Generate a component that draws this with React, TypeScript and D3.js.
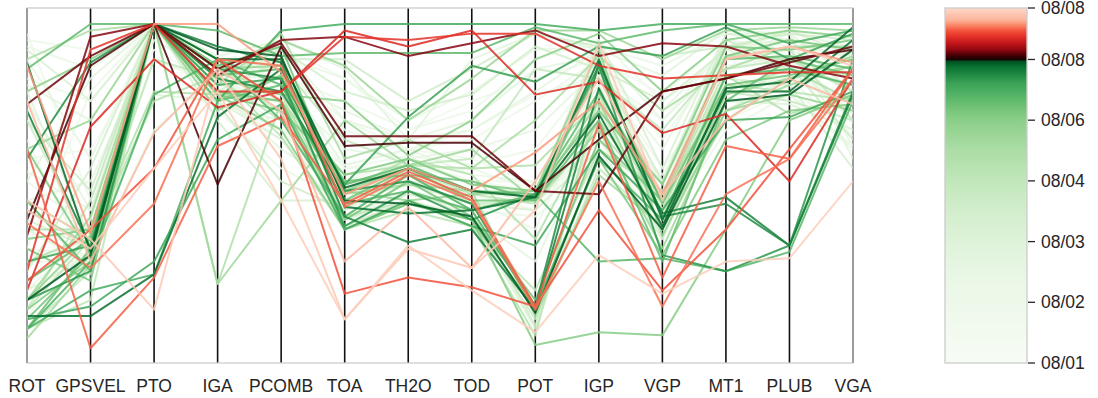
import React from 'react';
import * as d3 from 'd3';

// axes of the parallel coordinates plot
const dims = ['ROT', 'GPSVEL', 'PTO', 'IGA', 'PCOMB', 'TOA', 'TH2O', 'TOD', 'POT', 'IGP', 'VGP', 'MT1', 'PLUB', 'VGA'];

// colorbar ticks (position along the bar, 0 = bottom, 1 = top)
const barTicks = ['08/01', '08/02', '08/03', '08/04', '08/06', '08/08', '08/08'];
const barTickAt = [0, 0.171, 0.342, 0.513, 0.684, 0.855, 1];

// time of each record, as position on the colour scale
const when = [
  // reds
  0.875, 0.868, 0.915, 0.88, 0.92, 0.94, 0.945, 0.935, 0.958, 0.985, 0.972, 0.99,
  // dark greens
  0.84, 0.835, 0.82, 0.81, 0.845, 0.77, 0.74, 0.79, 0.8, 0.78,
  // medium / light greens
  0.74, 0.72, 0.7, 0.68, 0.76, 0.66, 0.64, 0.71, 0.6, 0.73,
  0.55, 0.5, 0.45, 0.42, 0.62, 0.38, 0.58, 0.35, 0.3, 0.52,
  0.28, 0.25, 0.48, 0.2, 0.4, 0.15, 0.69, 0.75, 0.1, 0.33,
  0.57, 0.65, 0.7, 0.63, 0.45, 0.53, 0.18, 0.22, 0.12, 0.44,
  // faint greens
  0.2, 0.23, 0.18, 0.21, 0.17, 0.25, 0.19, 0.27, 0.22, 0.29, 0.24, 0.31, 0.2, 0.26, 0.28,
];

// normalised values (0-100) for each record, one per axis
const rows = [
  [75, 90, 100, 86, 94, 65, 65, 65, 48, 47, 79, 83, 88, 93],
  [39, 87, 100, 50, 93, 62, 63, 63, 48, 64, 79, 83, 89, 92],
  [17, 68, 89, 74, 79, 98, 93, 98, 78, 82, 66, 72, 51, 83],
  [34, 96, 100, 84, 95, 96, 90, 94, 98, 90, 94, 93, 87, 83],
  [23, 92, 100, 79, 79, 96, 95, 97, 97, 87, 83, 84, 85, 85],
  [61, -1, 21, 62, 71, 44, 54, 46, 12, 69, 21, 62, 58, 86],
  [38, 24, 44, 89, 87, 43, 53, 45, 11, 51, 12, 47, 58, 83],
  [20, 36, 55, 89, 76, 16, 21, 18, 12, 42, 17, 36, 61, 86],
  [87, 35, 100, 100, 85, 47, 55, 48, 60, 76, 47, 89, 93, 88],
  [45, 33, 11, 85, 58, 8, 30, 24, 42, 94, 45, 89, 93, 87],
  [76, 26, 66, 86, 73, 26, 43, 24, 51, 83, 47, 70, 83, 75],
  [42, 30, 55, 79, 45, 8, 31, 17, 4, 28, 16, 26, 27, 51],

  [88, 29, 100, 89, 89, 49, 55, 48, 46, 72, 37, 80, 82, 99],
  [9, 9, 22, 71, 86, 43, 41, 42, 46, 89, 39, 79, 79, 95],
  [73, 30, 100, 93, 88, 40, 32, 36, 11, 80, 41, 46, 31, 78],
  [58, 88, 100, 83, 79, 48, 51, 44, 12, 88, 40, 44, 31, 79],
  [14, 28, 100, 92, 90, 45, 44, 40, 10, 59, 36, 76, 78, 92],
  [5, 17, 22, 76, 98, 100, 100, 100, 100, 98, 100, 100, 94, 98],
  [86, 100, 100, 98, 90, 91, 91, 91, 99, 94, 98, 100, 100, 100],
  [26, 31, 100, 81, 83, 50, 71, 87, 82, 93, 90, 99, 89, 97],
  [14, 23, 100, 86, 83, 37, 48, 39, 47, 87, 28, 23, 31, 89],
  [8, 12, 26, 64, 75, 36, 45, 37, 31, 61, 42, 70, 71, 79],

  [20, 33, 100, 84, 86, 50, 56, 48, 47, 79, 45, 89, 90, 86],
  [8, 28, 100, 87, 93, 45, 55, 45, 45, 86, 44, 81, 84, 89],
  [33, 36, 100, 78, 73, 53, 58, 50, 48, 73, 50, 93, 92, 95],
  [79, 89, 100, 83, 78, 76, 59, 70, 89, 97, 79, 95, 98, 96],
  [5, 26, 78, 89, 70, 40, 53, 42, 12, 58, 39, 84, 86, 81],
  [14, 34, 100, 73, 84, 48, 45, 47, 48, 92, 34, 73, 78, 73],
  [61, 70, 100, 86, 95, 87, 70, 83, 98, 98, 89, 98, 99, 98],
  [30, 20, 100, 79, 76, 39, 51, 40, 14, 64, 45, 90, 95, 92],
  [89, 98, 100, 81, 97, 58, 64, 55, 70, 90, 73, 86, 93, 93],
  [5, 30, 100, 76, 81, 51, 53, 51, 45, 70, 26, 76, 89, 84],
  [45, 33, 76, 84, 65, 36, 42, 37, 3, 78, 40, 81, 79, 76],
  [11, 45, 100, 89, 87, 64, 56, 58, 86, 83, 67, 90, 92, 70],
  [70, 31, 100, 75, 51, 42, 55, 44, 45, 87, 51, 95, 87, 64],
  [23, 55, 100, 83, 92, 79, 73, 78, 93, 86, 76, 92, 98, 90],
  [2, 25, 100, 78, 79, 47, 50, 48, 9, 53, 37, 70, 83, 87],
  [92, 76, 100, 86, 89, 45, 58, 50, 47, 95, 55, 97, 95, 79],
  [36, 36, 100, 19, 76, 53, 56, 55, 56, 76, 47, 79, 86, 76],
  [17, 28, 78, 76, 64, 40, 48, 40, 5, 61, 33, 76, 75, 67],
  [51, 83, 100, 90, 95, 86, 64, 89, 97, 92, 84, 98, 97, 58],
  [11, 33, 89, 83, 70, 50, 55, 47, 44, 67, 44, 86, 89, 83],
  [76, 42, 100, 79, 61, 48, 56, 48, 45, 73, 40, 73, 84, 73],
  [26, 26, 67, 84, 83, 56, 61, 53, 51, 81, 50, 89, 93, 62],
  [5, 23, 100, 86, 76, 37, 45, 39, 8, 55, 37, 79, 76, 70],
  [95, 92, 100, 89, 86, 70, 61, 67, 78, 84, 70, 93, 90, 86],
  [39, 30, 100, 70, 45, 45, 50, 44, 42, 61, 48, 83, 81, 55],
  [20, 36, 100, 81, 78, 51, 58, 51, 48, 89, 44, 76, 86, 76],
  [11, 26, 100, 78, 67, 36, 44, 39, 0, 4, 3, 36, 70, 78],
  [45, 23, 100, 89, 81, 44, 48, 42, 47, 26, 27, 23, 29, 76],
  [5, 31, 100, 83, 75, 40, 53, 45, 45, 84, 40, 89, 92, 72],
  [79, 33, 100, 87, 86, 45, 51, 48, 48, 90, 45, 97, 97, 83],
  [26, 34, 79, 78, 76, 48, 58, 53, 33, 70, 42, 84, 72, 78],
  [42, 31, 100, 86, 87, 48, 55, 48, 46, 76, 36, 78, 83, 90],
  [61, 28, 100, 76, 84, 36, 44, 39, 11, 58, 28, 64, 73, 75],
  [14, 40, 100, 19, 45, 70, 56, 61, 45, 67, 30, 73, 81, 87],
  [70, 48, 100, 79, 89, 89, 76, 86, 97, 93, 90, 93, 97, 95],
  [5, 14, 100, 86, 78, 40, 45, 37, 17, 61, 47, 90, 89, 79],
  [83, 76, 100, 84, 67, 56, 61, 58, 50, 72, 53, 86, 90, 69],
  [30, 28, 100, 73, 55, 45, 53, 42, 40, 55, 36, 67, 78, 61],
  [58, 61, 92, 81, 93, 83, 67, 76, 83, 89, 78, 95, 89, 89],
  [45, 22, 100, 87, 72, 39, 47, 42, 6, 75, 33, 84, 87, 81],

  [97, 45, 100, 87, 92, 67, 61, 64, 76, 89, 64, 92, 95, 89],
  [51, 36, 100, 83, 73, 42, 50, 45, 36, 79, 51, 87, 90, 78],
  [30, 79, 100, 90, 84, 76, 67, 73, 89, 95, 76, 90, 98, 92],
  [14, 30, 100, 78, 81, 51, 55, 55, 48, 73, 47, 84, 86, 75],
  [64, 23, 100, 76, 67, 47, 51, 47, 42, 64, 36, 70, 79, 67],
  [89, 58, 100, 86, 79, 61, 58, 61, 67, 86, 61, 95, 92, 84],
  [8, 39, 100, 81, 87, 55, 56, 51, 51, 81, 42, 78, 87, 72],
  [45, 51, 95, 84, 93, 70, 64, 67, 79, 92, 70, 89, 97, 93],
  [73, 26, 100, 79, 76, 44, 48, 44, 45, 78, 37, 81, 83, 65],
  [26, 33, 100, 75, 70, 39, 45, 40, 26, 67, 45, 73, 83, 76],
  [93, 86, 100, 89, 90, 83, 70, 79, 92, 93, 87, 97, 93, 90],
  [36, 25, 100, 84, 86, 48, 53, 48, 47, 70, 42, 92, 86, 81],
  [17, 36, 89, 81, 78, 55, 59, 56, 61, 86, 55, 83, 89, 70],
  [54, 42, 100, 78, 64, 45, 51, 47, 44, 64, 39, 76, 78, 62],
  [81, 70, 100, 89, 83, 73, 64, 70, 86, 90, 73, 93, 95, 89],
];

const W = 1098;
const H = 398;
const plot = { left: 27, right: 853, top: 8, bottom: 363 };
const bar = { left: 945, right: 1027 };
const split = 0.855; // greens below, reds above

// greens are stretched so the light part takes most of the bar
const greenPos = d3.scaleLinear()
  .domain([0, 0.13, 0.225, 0.318, 0.411, 0.507, 0.6, 0.693, 0.741, 0.789, 0.834, split])
  .range([0, 0.05, 0.08, 0.135, 0.19, 0.26, 0.34, 0.45, 0.55, 0.66, 0.85, 1])
  .clamp(true);
const redRamp = d3.scaleLinear<string>()
  .domain([0, 0.09, 0.18, 0.32, 0.44, 0.57, 0.67, 0.77, 1])
  .range(['#1a0000', '#4a0005', '#8c0710', '#c4161c', '#e32f27', '#f4573f', '#fb8a6a', '#fcb59c', '#fdd8c8'])
  .interpolate(d3.interpolateRgb)
  .clamp(true);

const colorAt = (t: number) =>
  t < split ? d3.interpolateGreens(greenPos(t)) : redRamp((t - split) / (1 - split));

const font = '"Liberation Sans", Arial, sans-serif';

export default function App() {
  const x = d3.scalePoint<string>().domain(dims).range([plot.left, plot.right]);
  const y = d3.scaleLinear().domain([0, 100]).range([345, 24]);
  const barY = d3.scaleLinear().domain([0, 1]).range([plot.bottom, plot.top]);

  const line = d3.line<number>()
    .x((_, i) => x(dims[i]) as number)
    .y(v => y(v));

  const order = d3.range(rows.length).sort((a, b) => when[a] - when[b]);

  const stops = d3.range(0, 1.0001, 0.005);

  return (
    <svg width={W} height={H} style={{ position: 'absolute', left: 0, top: 0, background: '#fff' }}>
      <defs>
        <linearGradient id="cbar" x1="0" y1="1" x2="0" y2="0">
          {stops.map((t, i) => (
            <stop key={i} offset={t} stopColor={colorAt(t)} />
          ))}
          <stop offset={split - 0.0005} stopColor={colorAt(split - 0.0005)} />
          <stop offset={split} stopColor={colorAt(split)} />
        </linearGradient>
        <clipPath id="plotclip">
          <rect x={plot.left} y={plot.top} width={plot.right - plot.left} height={plot.bottom - plot.top} />
        </clipPath>
      </defs>

      {/* vertical axes */}
      {dims.map(d => (
        <line key={d} x1={x(d)} x2={x(d)} y1={plot.top} y2={plot.bottom} stroke="#111" strokeWidth={1.6} />
      ))}

      {/* records */}
      <g clipPath="url(#plotclip)" fill="none" strokeWidth={2} strokeLinejoin="round">
        {order.map(i => (
          <path key={i} d={line(rows[i]) as string} stroke={colorAt(when[i])} strokeOpacity={0.85} />
        ))}
      </g>

      {/* frame */}
      <rect x={plot.left} y={plot.top} width={plot.right - plot.left} height={plot.bottom - plot.top}
        fill="none" stroke="#cccccc" strokeWidth={1.3} />

      {dims.map(d => (
        <text key={d} x={x(d)} y={392} textAnchor="middle" fontFamily={font} fontSize={17.5} fill="#262626">{d}</text>
      ))}

      {/* colorbar */}
      <rect x={bar.left} y={plot.top} width={bar.right - bar.left} height={plot.bottom - plot.top}
        fill="url(#cbar)" stroke="#cccccc" strokeWidth={1.3} />
      {barTicks.map((lab, i) => (
        <g key={i} transform={`translate(${bar.right},${barY(barTickAt[i])})`}>
          <line x1={1} x2={8} stroke="#262626" strokeWidth={1.3} />
          <text x={14} dy="0.35em" fontFamily={font} fontSize={17.5} fill="#262626">{lab}</text>
        </g>
      ))}
    </svg>
  );
}
